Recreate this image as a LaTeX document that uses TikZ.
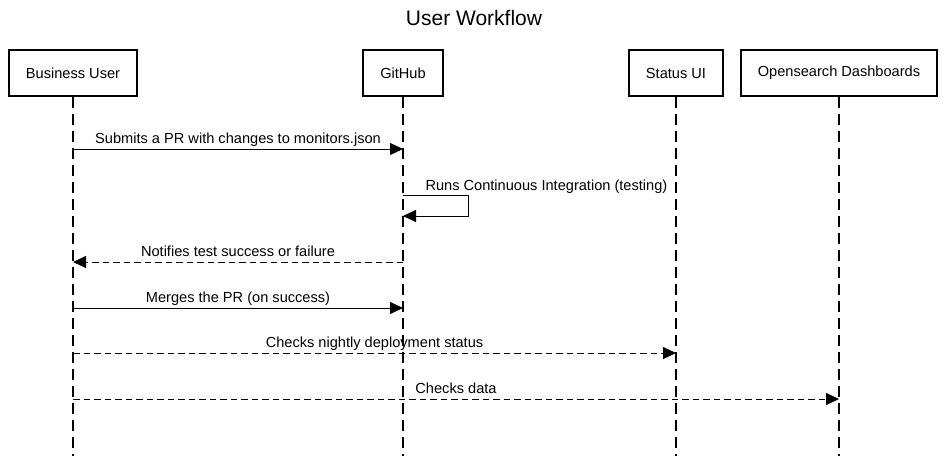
\documentclass[tikz,border=0pt]{standalone}
\usepackage{fontspec}
\setmainfont{Liberation Sans}
\usetikzlibrary{arrows.meta,positioning}

\tikzstyle{actor} = [rectangle, minimum height=46pt, inner xsep=17pt, text centered, draw=black, line width=2pt, fill=white, font=\fontsize{14.6}{17}\selectfont]
\tikzstyle{lifeline} = [line width=1.2pt, dash pattern=on 11pt off 6pt]
\tikzstyle{message} = [line width=1pt, -{Triangle[length=13pt,width=12pt]}]
\tikzstyle{reply} = [message, dash pattern=on 6.5pt off 4pt]
\tikzstyle{msglabel} = [font=\fontsize{14.6}{17}\selectfont, inner sep=0pt, text depth=0pt]

\begin{document}
\begin{tikzpicture}[x=1pt, y=1pt, node distance=2cm, auto]
	\useasboundingbox (0,0) rectangle (947,-456);
	\node [font=\fontsize{21}{24}\selectfont] (Title) at (474,-18) {User Workflow};
	% Place actors
	\node [actor] (BusinessUser) at (73,-73) {Business User};
	\node [actor] (GitHub) at (403,-73) {GitHub};
	\node [actor] (StatusUI) at (676,-73) {Status UI};
	\node [actor] (Dashboards) at (839,-73) {Opensearch Dashboards};
	% Message rows
	\coordinate (Bottom) at (0,-456);
	\coordinate (Submit) at (0,-149);
	\coordinate (RunCI) at (0,-195);
	\coordinate (RunCIEnd) at (0,-216);
	\coordinate (Notify) at (0,-262);
	\coordinate (Merge) at (0,-308);
	\coordinate (Nightly) at (0,-353);
	\coordinate (Data) at (0,-399);
	% Draw lifelines
	\draw [lifeline] (BusinessUser) -- (BusinessUser |- Bottom);
	\draw [lifeline] (GitHub) -- (GitHub |- Bottom);
	\draw [lifeline] (StatusUI) -- (StatusUI |- Bottom);
	\draw [lifeline] (Dashboards) -- (Dashboards |- Bottom);
	% Draw messages
	\draw [message] (BusinessUser |- Submit) -- node [msglabel, above=5.5pt] {Submits a PR with changes to monitors.json} (GitHub |- Submit);
	\draw [message] (GitHub |- RunCI) node [msglabel, anchor=base west, xshift=22pt, yshift=5pt] {Runs Continuous Integration (testing)} -- ++(65,0) |- (GitHub |- RunCIEnd);
	\draw [reply] (GitHub |- Notify) -- node [msglabel, above=5.5pt] {Notifies test success or failure} (BusinessUser |- Notify);
	\draw [message] (BusinessUser |- Merge) -- node [msglabel, above=5.5pt] {Merges the PR (on success)} (GitHub |- Merge);
	\draw [reply] (BusinessUser |- Nightly) -- node [msglabel, above=5.5pt] {Checks nightly deployment status} (StatusUI |- Nightly);
	\draw [reply] (BusinessUser |- Data) -- node [msglabel, above=5.5pt] {Checks data} (Dashboards |- Data);
\end{tikzpicture}
\end{document}
